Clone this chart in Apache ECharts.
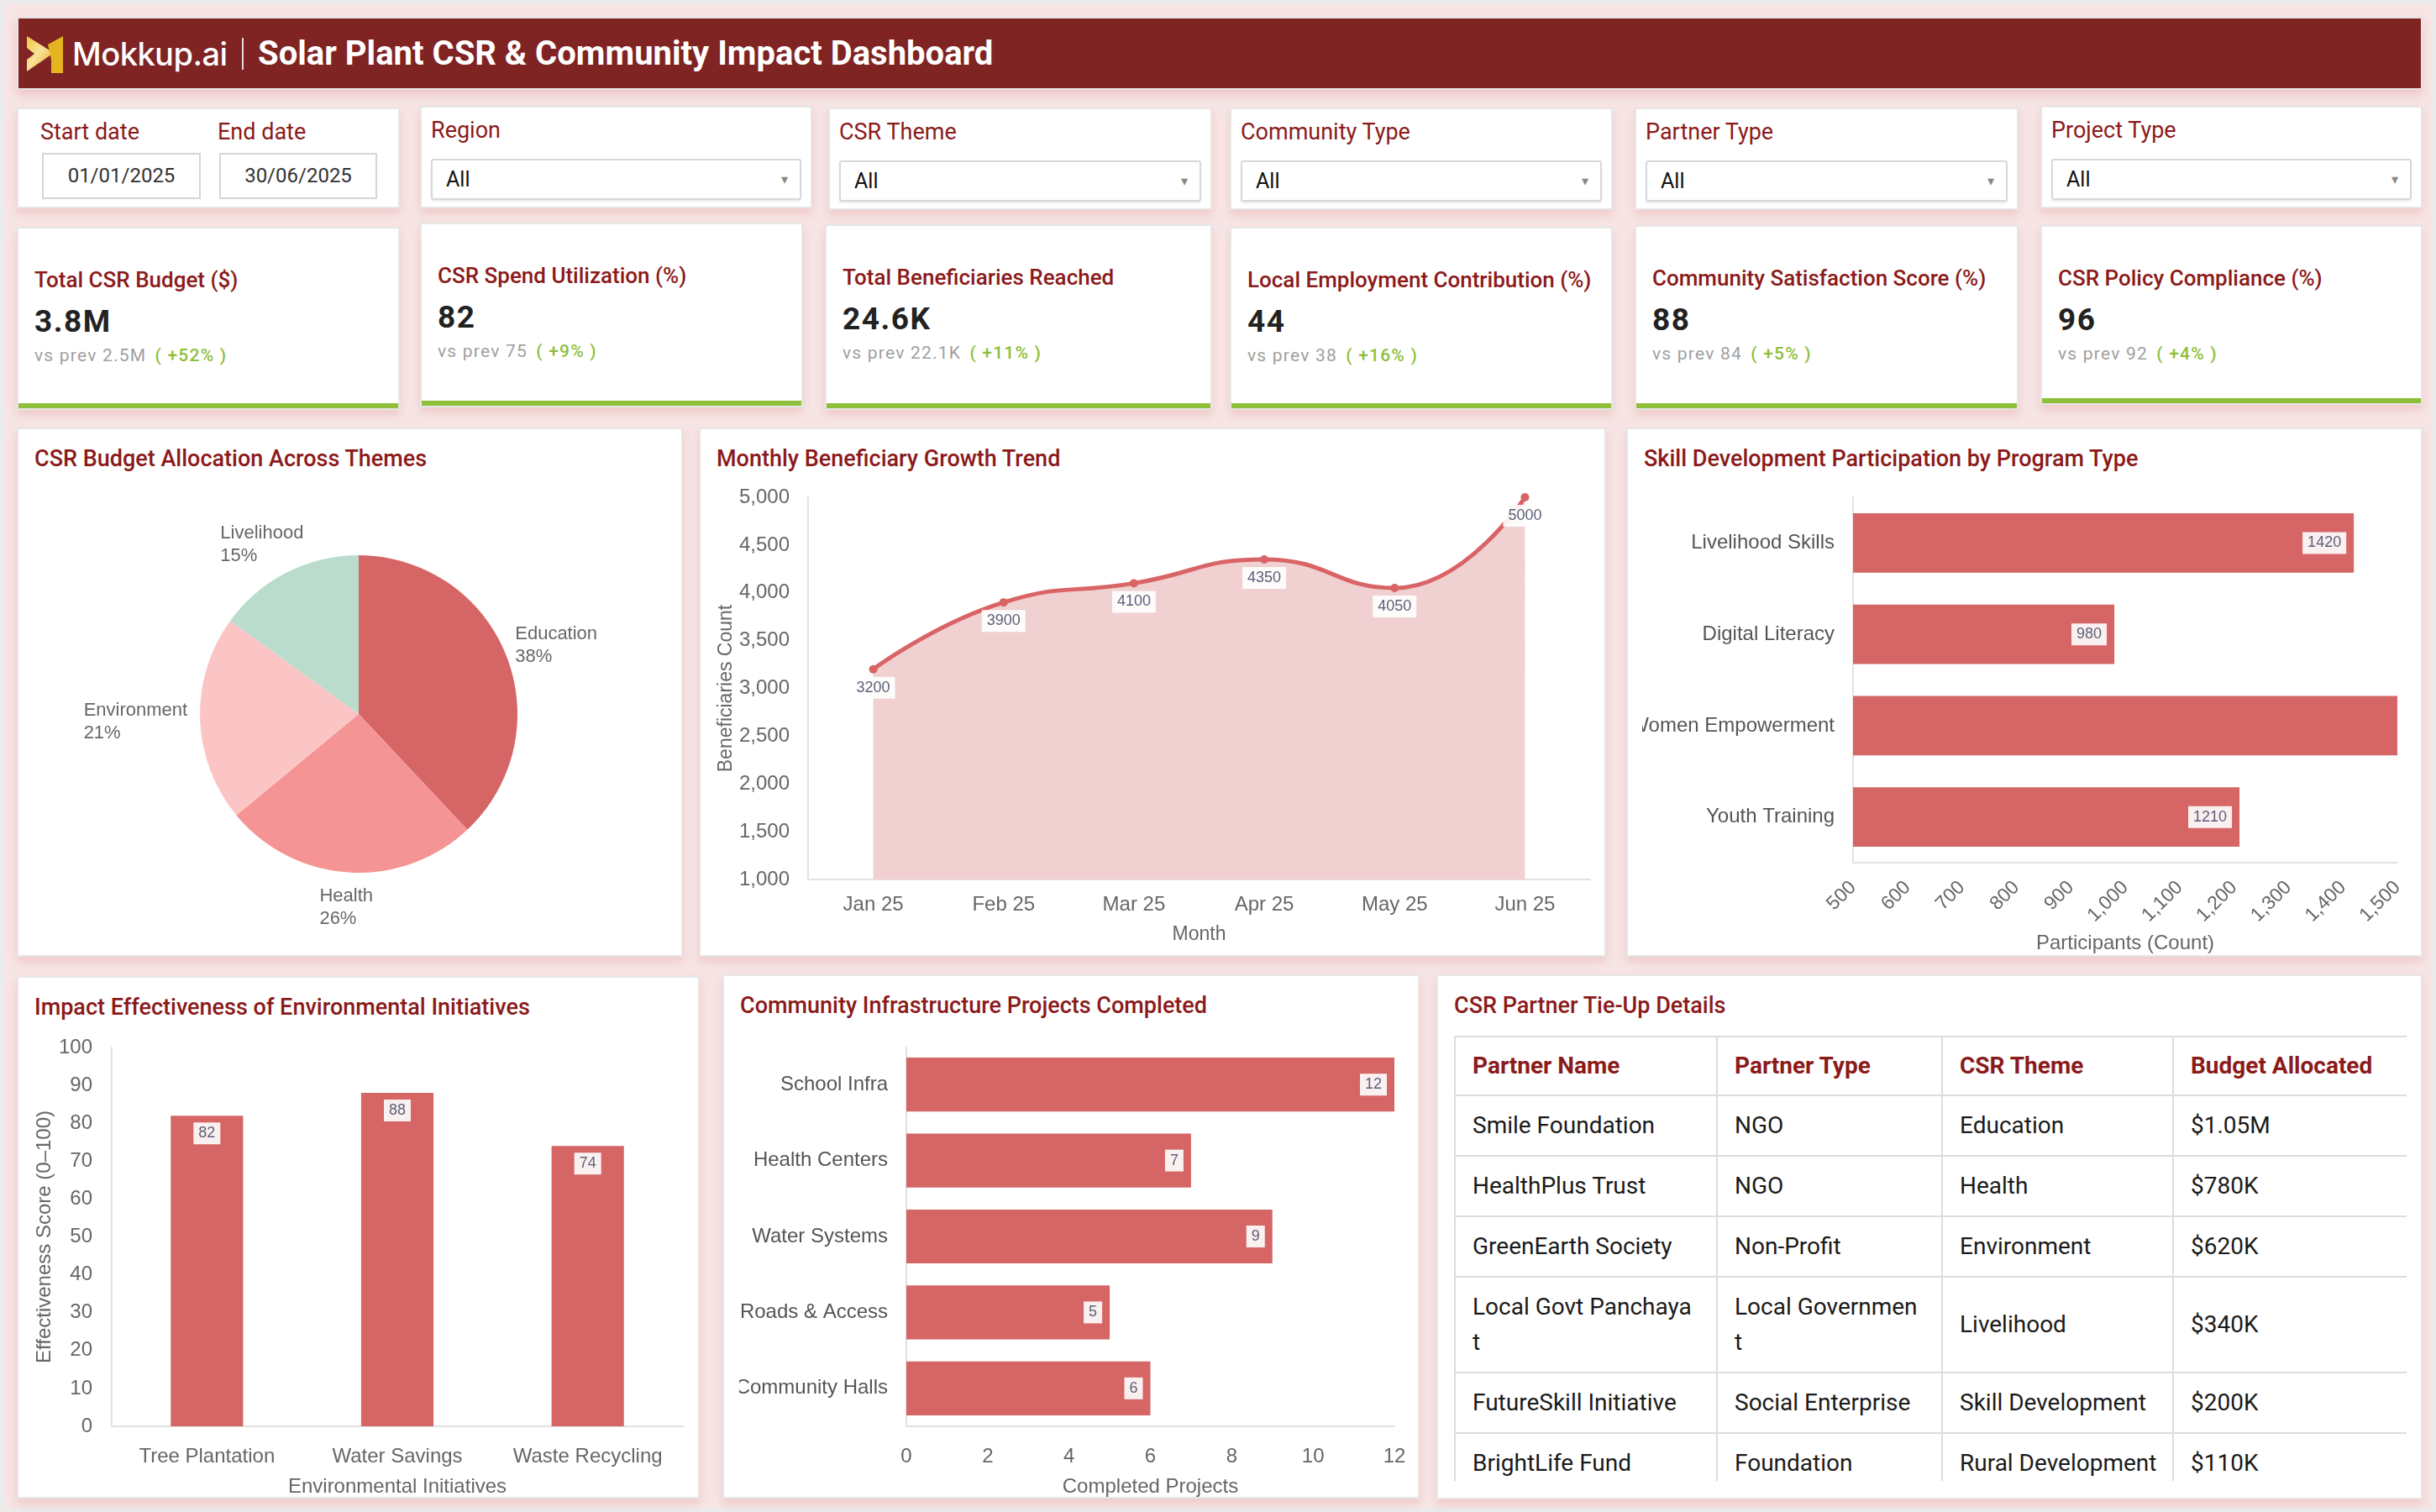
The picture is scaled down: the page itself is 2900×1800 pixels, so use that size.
<!DOCTYPE html>
<html>
<head>
<meta charset="utf-8">
<title>Solar Plant CSR & Community Impact Dashboard</title>
<script src="https://cdn.jsdelivr.net/npm/echarts@6/dist/echarts.min.js"></script>
<style>
  body { margin: 0; background: #f7e5e5; font-family: Roboto, 'Noto Sans', sans-serif; }
  .page { position: relative; width: 2900px; height: 1800px; overflow: hidden; }
  .frame { position: absolute; left: 0; top: 0; width: 2890px; height: 1790px; border: 5px solid #ebebeb; }
  .card {
    position: absolute; background: #fff; border: 2px solid #e6e6e6; box-sizing: border-box;
    box-shadow: 0 6px 10px rgba(226, 150, 150, 0.35);
  }
  .header {
    position: absolute; left: 20px; top: 20px; width: 2864px; height: 87px; background: #7f2323;
    border: 2px solid #e6e6e6; box-sizing: border-box; box-shadow: 0 6px 10px rgba(226, 150, 150, 0.4);
  }
  .header svg { position: absolute; left: 9px; top: 21px; }
  .brand { position: absolute; left: 64px; top: 20px; font-family: Inter, Roboto, sans-serif; font-weight: 500; font-size: 38px; color: #fff; line-height: 44px; letter-spacing: -0.5px; }
  .sep { position: absolute; left: 266px; top: 23px; width: 2px; height: 38px; background: #e8d8d8; }
  .htitle { position: absolute; left: 285px; top: 20px; font-weight: 700; font-size: 40px; color: #fff; line-height: 44px; }
  .flabel { position: absolute; top: 14px; font-size: 27px; color: #8b1a1a; line-height: 27px; }
  .datebox { position: absolute; top: 52px; height: 55px; border: 2px solid #d6d6d6; box-sizing: border-box; font-size: 24px; color: #333; text-align: center; line-height: 51px; }
  .select { position: absolute; left: 11px; right: 11px; top: 61px; height: 49px; border: 2px solid #d8d8d8; border-radius: 3px; box-sizing: border-box; box-shadow: 0 2px 2px rgba(0,0,0,0.08); }
  .select span { position: absolute; left: 16px; top: 0; line-height: 45px; font-size: 25px; color: #111; }
  .select i { position: absolute; right: 14px; top: 0; line-height: 45px; font-size: 16px; color: #888; font-style: normal; }
  .kt { position: absolute; left: 19px; top: 48px; font-size: 26px; font-weight: 500; color: #8b1a1a; line-height: 26px; }
  .kv { position: absolute; left: 19px; top: 92px; font-size: 37px; font-weight: 700; color: #222; line-height: 37px; letter-spacing: 1.5px; }
  .kp { position: absolute; left: 19px; top: 141px; font-size: 21px; color: #a0a0a0; line-height: 21px; letter-spacing: 1.2px; }
  .kp b { color: #8dbf3a; font-weight: 500; margin-left: 4px; }
  .kbar { position: absolute; left: 0; right: 0; bottom: 0; height: 6px; background: #8fbf3a; }
  .ctitle { position: absolute; left: 19px; top: 21px; font-size: 27px; font-weight: 500; color: #8b1a1a; line-height: 28px; }
  .chart { position: absolute; }
  .tablewrap { position: absolute; left: 19px; top: 71px; width: 1134px; height: 530px; overflow: hidden; }
  table { border-collapse: collapse; width: 1134px; table-layout: fixed; }
  th, td { border: 2px solid #dcdcdc; text-align: left; vertical-align: middle; padding: 14px 27px 14px 20px; word-break: break-all; }
  th:nth-child(n+3), td:nth-child(n+3) { padding-right: 6px; }
  th { font-size: 28px; font-weight: 700; color: #8b1a1a; line-height: 40px; }
  td { font-size: 28px; color: #1a1a1a; line-height: 42px; }
</style>
</head>
<body>
<div class="page" id="page">
  <div class="frame"></div>
  <div class="header">
    <svg width="46" height="46" viewBox="0 0 46 46">
      <defs>
        <linearGradient id="gold" x1="0" y1="0" x2="1" y2="1">
          <stop offset="0" stop-color="#f0c83a"/>
          <stop offset="0.45" stop-color="#f8e39a"/>
          <stop offset="1" stop-color="#e0a818"/>
        </linearGradient>
      </defs>
      <polygon points="1,0 33,20 1,42 1,28 10,21 1,14" fill="url(#gold)"/>
      <polygon points="26,10 44,0 44,44 30,44 30,28" fill="#e6b420"/>
    </svg>
    <div class="brand">Mokkup.ai</div>
    <div class="sep"></div>
    <div class="htitle">Solar Plant CSR &amp; Community Impact Dashboard</div>
  </div>
  <div id="filters"></div>
  <div id="kpis"></div>
  <div class="card" style="left:20px;top:509px;width:793px;height:630px"><div class="ctitle">CSR Budget Allocation Across Themes</div></div>
  <div class="card" style="left:832px;top:509px;width:1080px;height:630px"><div class="ctitle">Monthly Beneficiary Growth Trend</div></div>
  <div class="card" style="left:1936px;top:509px;width:948px;height:630px"><div class="ctitle">Skill Development Participation by Program Type</div></div>
  <div class="card" style="left:20px;top:1162px;width:813px;height:622px"><div class="ctitle">Impact Effectiveness of Environmental Initiatives</div></div>
  <div class="card" style="left:860px;top:1160px;width:830px;height:624px"><div class="ctitle">Community Infrastructure Projects Completed</div></div>
  <div class="card" style="left:1710px;top:1160px;width:1174px;height:625px">
    <div class="ctitle">CSR Partner Tie-Up Details</div>
    <div class="tablewrap"><table id="partners"></table></div>
  </div>
  <div class="chart" id="pie" style="left:20px;top:509px;width:793px;height:630px"></div>
  <div class="chart" id="trend" style="left:832px;top:509px;width:1080px;height:630px"></div>
  <div class="chart" id="skills" style="left:1955px;top:509px;width:929px;height:630px"></div>
  <div class="chart" id="impact" style="left:20px;top:1162px;width:813px;height:622px"></div>
  <div class="chart" id="infra" style="left:880px;top:1160px;width:810px;height:624px"></div>
</div>
<script>
// filters
const filterLabels = ['Region', 'CSR Theme', 'Community Type', 'Partner Type', 'Project Type']
const startDate = '01/01/2025'
const endDate = '30/06/2025'

// kpis
const kpiTitles = ['Total CSR Budget ($)', 'CSR Spend Utilization (%)', 'Total Beneficiaries Reached',
  'Local Employment Contribution (%)', 'Community Satisfaction Score (%)', 'CSR Policy Compliance (%)']
const kpiValues = ['3.8M', '82', '24.6K', '44', '88', '96']
const kpiPrev = ['2.5M', '75', '22.1K', '38', '84', '92']
const kpiChange = ['+52%', '+9%', '+11%', '+16%', '+5%', '+4%']

// pie
const themeNames = ['Education', 'Health', 'Environment', 'Livelihood']
const themeShares = [38, 26, 21, 15]

// trend
const months = ['Jan 25', 'Feb 25', 'Mar 25', 'Apr 25', 'May 25', 'Jun 25']
const beneficiaries = [3200, 3900, 4100, 4350, 4050, 5000]

// skills
const programs = ['Livelihood Skills', 'Digital Literacy', 'Women Empowerment', 'Youth Training']
const participants = [1420, 980, 1650, 1210]

// environmental initiatives
const initiatives = ['Tree Plantation', 'Water Savings', 'Waste Recycling']
const effectiveness = [82, 88, 74]

// infrastructure
const projects = ['School Infra', 'Health Centers', 'Water Systems', 'Roads & Access', 'Community Halls']
const completed = [12, 7, 9, 5, 6]

// table
const tableHead = ['Partner Name', 'Partner Type', 'CSR Theme', 'Budget Allocated']
const partnerNames = ['Smile Foundation', 'HealthPlus Trust', 'GreenEarth Society', 'Local Govt Panchayat', 'FutureSkill Initiative', 'BrightLife Fund']
const partnerTypes = ['NGO', 'NGO', 'Non-Profit', 'Local Government', 'Social Enterprise', 'Foundation']
const partnerThemes = ['Education', 'Health', 'Environment', 'Livelihood', 'Skill Development', 'Rural Development']
const partnerBudgets = ['$1.05M', '$780K', '$620K', '$340K', '$200K', '$110K']

const RED = '#d66565'
const GRAY = '#666'
const AXLINE = { lineStyle: { color: '#e2e2e2', width: 2 } }

// card boxes [left, top, width, height]
const filterBoxes = [[20, 128, 456, 120], [500, 126, 467, 122], [986, 128, 457, 122], [1464, 128, 456, 122], [1946, 128, 457, 122], [2429, 126, 455, 122]]
const kpiBoxes = [[20, 270, 456, 218], [500, 265, 456, 220], [982, 267, 461, 221], [1464, 270, 456, 218], [1946, 268, 457, 220], [2429, 268, 455, 214]]

const box = b => `left:${b[0]}px;top:${b[1]}px;width:${b[2]}px;height:${b[3]}px`

let fh = `<div class="card" style="${box(filterBoxes[0])}">
  <div class="flabel" style="left:26px">Start date</div><div class="flabel" style="left:237px">End date</div>
  <div class="datebox" style="left:28px;width:189px">${startDate}</div>
  <div class="datebox" style="left:239px;width:188px">${endDate}</div></div>`
filterLabels.forEach((l, i) => {
  fh += `<div class="card" style="${box(filterBoxes[i + 1])}"><div class="flabel" style="left:11px">${l}</div>
    <div class="select"><span>All</span><i>&#9662;</i></div></div>`
})
document.getElementById('filters').innerHTML = fh

let kh = ''
kpiTitles.forEach((t, i) => {
  kh += `<div class="card" style="${box(kpiBoxes[i])}"><div class="kt">${t}</div><div class="kv">${kpiValues[i]}</div>
    <div class="kp">vs prev ${kpiPrev[i]} <b>( ${kpiChange[i]} )</b></div><div class="kbar"></div></div>`
})
document.getElementById('kpis').innerHTML = kh

let th = '<tr>' + tableHead.map(h => `<th>${h}</th>`).join('') + '</tr>'
partnerNames.forEach((n, i) => {
  th += `<tr><td>${n}</td><td>${partnerTypes[i]}</td><td>${partnerThemes[i]}</td><td>${partnerBudgets[i]}</td></tr>`
})
const tbl = document.getElementById('partners')
tbl.innerHTML = '<colgroup><col style="width:312px"><col style="width:268px"><col style="width:275px"><col style="width:279px"></colgroup>' + th

const valueLabel = {
  show: true, color: '#5b6078', fontSize: 18, backgroundColor: 'rgba(255,255,255,0.9)', padding: [4, 6]
}

// pie
const themeColors = ['#d66565', '#f59494', '#fcc5c5', '#badccd']
const PIE_C = [407, 341]
const PIE_R = 189
echarts.init(document.getElementById('pie')).setOption({
  animation: false,
  series: [{
    type: 'pie', center: PIE_C, radius: PIE_R, startAngle: 90, silent: true,
    data: themeNames.map((n, i) => ({ name: n, value: themeShares[i], itemStyle: { color: themeColors[i] } })),
    label: {
      show: true, position: 'outside', formatter: '{t|{b}}\n{t|{d}%}',
      rich: { t: { align: 'left', fontSize: 22, color: GRAY, lineHeight: 27 } }
    },
    labelLine: { show: false, length: 12, length2: 0 },
    // place each label box so that it touches a point just outside the slice middle
    labelLayout: function (p) {
      const r = p.labelRect
      let sx, sy
      if (p.labelLinePoints && p.labelLinePoints[0]) {
        sx = p.labelLinePoints[0][0]; sy = p.labelLinePoints[0][1]
      } else {
        const right = r.x + r.width / 2 > PIE_C[0]
        sx = right ? r.x : r.x + r.width; sy = r.y + r.height / 2
      }
      let dx = sx - PIE_C[0], dy = sy - PIE_C[1]
      const len = Math.hypot(dx, dy)
      dx /= len; dy /= len
      const px = PIE_C[0] + dx * (PIE_R + 15)
      const py = PIE_C[1] + dy * (PIE_R + 15)
      return {
        x: px - (1 - dx) / 2 * r.width, y: py - (1 - dy) / 2 * r.height,
        align: 'left', verticalAlign: 'top'
      }
    }
  }]
})

// trend line
echarts.init(document.getElementById('trend')).setOption({
  animation: false,
  grid: { left: 130, right: 19, top: 83, bottom: 92, outerBoundsMode: 'none' },
  xAxis: {
    type: 'category', data: months, boundaryGap: true,
    axisLine: AXLINE, axisTick: { show: false },
    axisLabel: { color: GRAY, fontSize: 24, margin: 18, interval: 0 },
    name: 'Month', nameLocation: 'middle', nameGap: 54, nameTextStyle: { color: GRAY, fontSize: 23 }
  },
  yAxis: {
    type: 'value', min: 1000, max: 5000, interval: 500,
    axisLine: { show: true, ...AXLINE }, axisTick: { show: false }, splitLine: { show: false },
    axisLabel: { color: GRAY, fontSize: 24, margin: 22 },
    name: 'Beneficiaries Count', nameLocation: 'middle', nameGap: 86, nameMoveOverlap: false,
    nameTextStyle: { color: GRAY, fontSize: 23, fontFamily: 'Liberation Sans' }
  },
  series: [{
    type: 'line', data: beneficiaries, smooth: true, symbol: 'circle', symbolSize: 10,
    lineStyle: { color: '#d96466', width: 5 }, itemStyle: { color: '#d96466' },
    areaStyle: { color: '#f0d0d0', opacity: 1 },
    label: { ...valueLabel, position: 'bottom', distance: 4 }
  }]
})

// skills horizontal bars
const SKILL_MAX = 1500
echarts.init(document.getElementById('skills')).setOption({
  animation: false,
  grid: { left: 251, right: 30, top: 83, bottom: 112, outerBoundsMode: 'none' },
  xAxis: {
    type: 'value', min: 500, max: SKILL_MAX, interval: 100,
    axisLine: { show: true, ...AXLINE }, axisTick: { show: false }, splitLine: { show: false },
    axisLabel: { color: GRAY, fontSize: 23, rotate: 45, margin: 26 },
    name: 'Participants (Count)', nameLocation: 'middle', nameGap: 84, nameMoveOverlap: false,
    nameTextStyle: { color: GRAY, fontSize: 24 }
  },
  yAxis: {
    type: 'category', data: programs, inverse: true,
    axisLine: AXLINE, axisTick: { show: false },
    axisLabel: { color: '#555', fontSize: 24, margin: 22, interval: 0 }
  },
  series: [{
    type: 'bar', barWidth: '65%', itemStyle: { color: RED },
    data: participants.map(v => ({ value: v, label: { show: v <= SKILL_MAX } })),
    label: { ...valueLabel, position: 'insideRight', distance: 9 }
  }]
})

// environmental impact vertical bars
echarts.init(document.getElementById('impact')).setOption({
  animation: false,
  grid: { left: 113, right: 20, top: 85, bottom: 86, outerBoundsMode: 'none' },
  xAxis: {
    type: 'category', data: initiatives,
    axisLine: AXLINE, axisTick: { show: false },
    axisLabel: { color: GRAY, fontSize: 24, margin: 24, interval: 0 },
    name: 'Environmental Initiatives', nameLocation: 'middle', nameGap: 60, nameMoveOverlap: false,
    nameTextStyle: { color: GRAY, fontSize: 24 }
  },
  yAxis: {
    type: 'value', min: 0, max: 100, interval: 10,
    axisLine: { show: true, ...AXLINE }, axisTick: { show: false }, splitLine: { show: false },
    axisLabel: { color: GRAY, fontSize: 24, margin: 23 },
    name: 'Effectiveness Score (0–100)', nameLocation: 'middle', nameGap: 68, nameMoveOverlap: false,
    nameTextStyle: { color: GRAY, fontSize: 24, fontFamily: 'Liberation Sans' }
  },
  series: [{
    type: 'bar', data: effectiveness, barWidth: '38%', itemStyle: { color: RED },
    label: { ...valueLabel, position: 'insideTop', distance: 8 }
  }]
})

// infrastructure horizontal bars
echarts.init(document.getElementById('infra')).setOption({
  animation: false,
  grid: { left: 199, right: 30, top: 86, bottom: 86, outerBoundsMode: 'none' },
  xAxis: {
    type: 'value', min: 0, max: 12, interval: 2,
    axisLine: { show: true, ...AXLINE }, axisTick: { show: false }, splitLine: { show: false },
    axisLabel: { color: GRAY, fontSize: 24, margin: 24 },
    name: 'Completed Projects', nameLocation: 'middle', nameGap: 60, nameMoveOverlap: false,
    nameTextStyle: { color: GRAY, fontSize: 24 }
  },
  yAxis: {
    type: 'category', data: projects, inverse: true,
    axisLine: AXLINE, axisTick: { show: false },
    axisLabel: { color: '#555', fontSize: 24, margin: 22, interval: 0 }
  },
  series: [{
    type: 'bar', data: completed, barWidth: '71%', itemStyle: { color: RED },
    label: { ...valueLabel, position: 'insideRight', distance: 9 }
  }]
})
</script>
</body>
</html>
